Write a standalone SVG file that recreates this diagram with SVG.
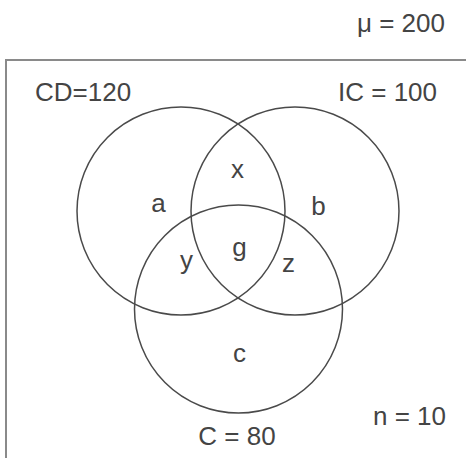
<svg xmlns="http://www.w3.org/2000/svg" width="466" height="458" viewBox="0 0 466 458">
<style>
text{font-family:"Liberation Sans",Arial,Helvetica,sans-serif;font-size:26px;fill:#444}
.m{text-anchor:middle}
.c{fill:none;stroke:#4a4a4a;stroke-width:1.5}
</style>
<rect width="466" height="458" fill="#fff"/>
<g id="frame"><rect x="6" y="60" width="480" height="420" fill="none" stroke="#8a8a8a" stroke-width="2"/></g>
<g id="universe"><text x="357" y="32">μ = 200</text></g>
<g id="CD"><circle class="c" cx="181" cy="211" r="104"/><text x="35" y="101">CD=120</text></g>
<g id="IC"><circle class="c" cx="295" cy="211" r="104"/><text x="338" y="101">IC = 100</text></g>
<g id="C"><circle class="c" cx="238.5" cy="309" r="104"/><text class="m" x="237" y="445">C = 80</text></g>
<g id="regions">
<text class="m" x="158.5" y="212">a</text>
<text class="m" x="237.5" y="178">x</text>
<text class="m" x="318.5" y="215">b</text>
<text class="m" x="239.5" y="256">g</text>
<text class="m" x="186.5" y="269">y</text>
<text class="m" x="288.5" y="272">z</text>
<text class="m" x="239.5" y="362">c</text>
</g>
<g id="n"><text x="373" y="425">n = 10</text></g>
</svg>
